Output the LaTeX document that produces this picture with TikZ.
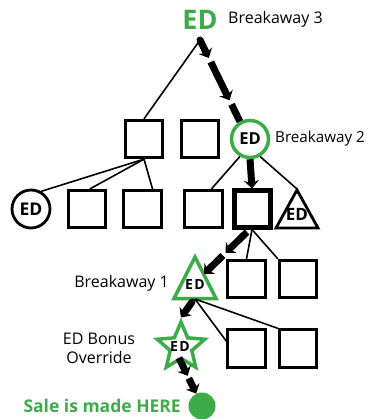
\documentclass[tikz,border=0pt]{standalone}
\usepackage{fontspec}
\setmainfont{Open Sans}
\usetikzlibrary{calc,arrows.meta,shapes.geometric}
\definecolor{edgreen}{RGB}{61,172,72}
\begin{document}
\begin{tikzpicture}[x=1pt,y=-1pt,
  box/.style={draw, line width=2.8pt, minimum size=37.5pt, inner sep=0pt, fill=white},
  thickbox/.style={draw, line width=5pt, minimum size=36pt, inner sep=0pt, fill=white},
  edc/.style={circle, draw, line width=2.8pt, fill=white, minimum size=38pt, inner sep=0pt, font=\bfseries\fontsize{17.5}{17.5}\selectfont},
  edtxt/.style={font=\bfseries\fontsize{17}{17}\selectfont, inner sep=0pt},
  lab/.style={font=\fontsize{16}{19}\selectfont, inner sep=0pt},
  thin/.style={line width=1.6pt},
  seg/.style={line width=7pt, -{Stealth[length=8pt,width=15pt,inset=2.5pt]}},
  segplain/.style={line width=7pt}]
\useasboundingbox (0,0) rectangle (369,419);

% top
\node[font=\bfseries\fontsize{27}{29}\selectfont, text=edgreen, inner sep=0pt] (top) at (200,20) {ED};
\node[lab, anchor=west] (b3) at (228,19) {Breakaway 3};
\coordinate (apex) at (200,40);

% row 1
\node[box] (r1a) at (144,139) {};
\node[box] (r1b) at (200,139) {};
\node[edc, draw=edgreen, line width=3.5pt, minimum size=37pt, font=\bfseries\fontsize{16.5}{16.5}\selectfont] (g2) at (250,139) {ED};
\node[lab, anchor=west, font=\fontsize{15.2}{18}\selectfont] (b2) at (275,139) {Breakaway 2};

% row 2
\node[edc] (edb) at (31,209) {ED};
\node[box] (r2a) at (87,209) {};
\node[box] (r2b) at (142.5,209) {};
\node[box] (r2c) at (203.5,209) {};
\node[thickbox] (tb) at (252,209) {};
\draw[line width=2.8pt, fill=white] (297,190) -- (318,228) -- (276,228) -- cycle;
\node[edtxt] (t2) at (297,214) {ED};
\coordinate (t2apex) at (297,189);

% row 3
\node[box] (r3a) at (246.5,279) {};
\node[box] (r3b) at (298,279) {};
\draw[line width=3.5pt, draw=edgreen, fill=white] (195,257) -- (216,298.5) -- (174,298.5) -- cycle;
\node[edtxt, font=\bfseries\fontsize{14}{14}\selectfont] (t1) at (195,285) {E\kern1.5pt D};
\node[lab, anchor=east] (b1) at (169,283) {Breakaway 1};
\coordinate (t1base) at (195,299);

% row 4
\node[box] (r4a) at (246.5,348.5) {};
\node[box] (r4b) at (298,348.5) {};
\node[star, star points=5, star point ratio=2.2, minimum size=50pt, draw=edgreen, line width=3.5pt, fill=white, inner sep=0pt] (st) at (181,347) {};
\node[edtxt, font=\bfseries\fontsize{14}{14}\selectfont] (stt) at (180,346) {E\kern1.5pt D};
\node[lab, align=center] (bonus) at (99,348) {ED Bonus\\Override};

% sale
\node[circle, fill=edgreen, minimum size=27pt, inner sep=0pt] (dot) at (202,406) {};
\node[anchor=east, text=edgreen, font=\bfseries\fontsize{17.5}{17.5}\selectfont, inner sep=0pt] (sale) at (181,406) {Sale is made HERE};

% thin connectors
\draw[thin] (apex) -- (r1a.north);
\draw[thin] (r1a.south) -- (edb.60);
\draw[thin] (r1a.south) -- ($(r2a.north)+(3,0)$);
\draw[thin] (r1a.south) -- ($(r2b.north)+(10,0)$);
\draw[thin] (g2.-120) -- ($(r2c.north)+(8,0)$);
\draw[thin] (g2.-60) -- (t2apex);
\draw[thin] (tb.south) -- (r3a.north);
\draw[thin] (tb.south) -- (r3b.north west);
\draw[thin] (t1base) -- (r4a.160);
\draw[thin] (t1base) -- (r4b.north west);

% thick arrow paths
\coordinate (a1s) at (200,40);
\coordinate (a1e) at (g2.120);
\draw[seg, line cap=round] (a1s) -- ($(a1s)!0.22!(a1e)$);
\draw[seg] ($(a1s)!0.27!(a1e)$) -- ($(a1s)!0.74!(a1e)$);
\draw[segplain] ($(a1s)!0.79!(a1e)$) -- (a1e);

\draw[seg] (g2.south) -- (tb.north);

\coordinate (a3s) at (247,232);
\coordinate (a3e) at (204,274);
\draw[seg] (a3s) -- ($(a3s)!0.5!(a3e)$);
\draw[seg] ($(a3s)!0.56!(a3e)$) -- (a3e);

\coordinate (a4s) at (192,302);
\draw[seg, line cap=round] (a4s) -- (st.north);

\coordinate (a5s) at (179,358);
\coordinate (a5e) at (dot.115);
\draw[seg] (a5s) -- ($(a5s)!0.5!(a5e)$);
\draw[seg] ($(a5s)!0.57!(a5e)$) -- (a5e);
\end{tikzpicture}
\end{document}
